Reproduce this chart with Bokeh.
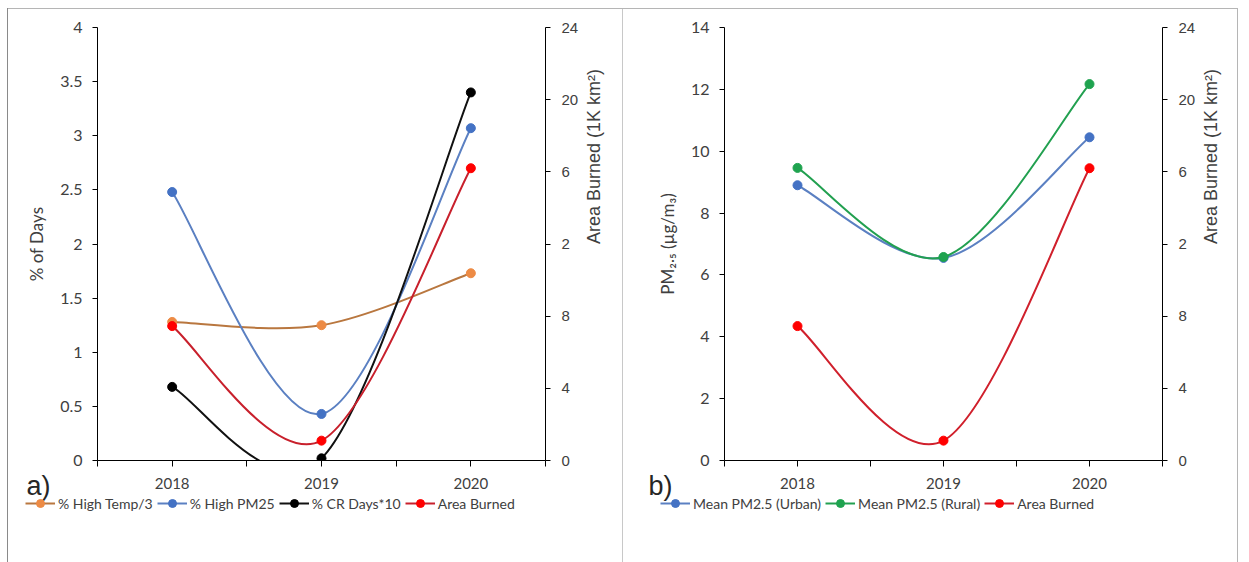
import math
import numpy as np
from bokeh.plotting import figure
from bokeh.models import (Range1d, LinearAxis, FixedTicker, NumeralTickFormatter,
                          Legend, LegendItem, Label, ColumnDataSource)
from bokeh.core.properties import value
from bokeh.layouts import row
from bokeh.embed import file_html
from bokeh.resources import INLINE

# ---------------- data ----------------
years = [2018, 2019, 2020]
year_labels = ["2018", "2019", "2020"]
half_years = [2017.5, 2018.5, 2019.5, 2020.5]

high_temp_div3 = [1.28, 1.25, 1.73]
high_pm25 = [2.48, 0.43, 3.07]
cr_days_x10 = [0.68, 0.02, 3.40]
area_burned = [7.45, 1.10, 16.2]

pm25_urban = [8.90, 6.55, 10.45]
pm25_rural = [9.46, 6.58, 12.17]

days_ticks = [0, 0.5, 1, 1.5, 2, 2.5, 3, 3.5, 4]
pm_ticks = [0, 2, 4, 6, 8, 10, 12, 14]
area_ticks = [0, 4, 8, 12, 16, 20, 24]
area_tick_labels = ["0", "4", "8", "2", "6", "20", "24"]

CAL = "Lato"
ARIAL = "Liberation Sans"
TXT = "#404040"
X0, X1 = 2017.5, 2020.5
MAIN_H, LEG_H = 470, 92


def smooth_source(xs, ys):
    """Bezier control points (Catmull-Rom style, like Excel smoothed lines)."""
    n = len(xs)
    d = dict(x0=[], y0=[], x1=[], y1=[], cx0=[], cy0=[], cx1=[], cy1=[])
    for i in range(n - 1):
        im, ip = max(i - 1, 0), min(i + 2, n - 1)
        d["x0"].append(xs[i]); d["y0"].append(ys[i])
        d["x1"].append(xs[i + 1]); d["y1"].append(ys[i + 1])
        d["cx0"].append(xs[i] + (xs[i + 1] - xs[im]) / 6.0)
        d["cy0"].append(ys[i] + (ys[i + 1] - ys[im]) / 6.0)
        d["cx1"].append(xs[i + 1] - (xs[ip] - xs[i]) / 6.0)
        d["cy1"].append(ys[i + 1] - (ys[ip] - ys[i]) / 6.0)
    return ColumnDataSource(d)


def add_series(p, xs, ys, line_color, marker_color, range_name="default"):
    p.bezier(x0="x0", y0="y0", x1="x1", y1="y1", cx0="cx0", cy0="cy0",
             cx1="cx1", cy1="cy1", source=smooth_source(xs, ys),
             line_color=line_color, line_width=2, y_range_name=range_name)
    p.scatter(xs, ys, size=9, fill_color=marker_color, line_color=marker_color,
              y_range_name=range_name)


def make_fig(width, bl, br, y_end, y_ticks):
    p = figure(width=width, height=MAIN_H, x_range=Range1d(X0, X1),
               y_range=Range1d(0, y_end), output_backend="svg", toolbar_location=None,
               min_border_left=bl, min_border_right=br, min_border_top=27,
               min_border_bottom=MAIN_H - 460, background_fill_color="white",
               border_fill_alpha=0)
    p.outline_line_color = None
    p.xgrid.visible = False
    p.ygrid.visible = False
    p.extra_y_ranges = {"area": Range1d(0, 24)}

    # category axis: tick marks only (year labels are drawn in the strip below)
    xa = p.xaxis[0]
    xa.ticker = FixedTicker(ticks=[], minor_ticks=sorted(years + half_years))
    xa.minor_tick_in = 0
    xa.minor_tick_out = 6
    xa.minor_tick_line_color = "black"
    xa.axis_line_color = "black"

    ya = p.yaxis[0]
    ya.ticker = FixedTicker(ticks=y_ticks, minor_ticks=[])
    ya.formatter = NumeralTickFormatter(format="0.[0]")
    ya.major_tick_in = 0
    ya.major_tick_out = 5
    ya.axis_line_color = "black"
    ya.major_label_text_font = CAL
    ya.major_label_text_font_size = "16px"
    ya.major_label_text_color = TXT
    ya.major_label_standoff = 10
    ya.axis_label_text_font = CAL
    ya.axis_label_text_font_size = "17px"
    ya.axis_label_text_font_style = "normal"
    ya.axis_label_text_color = TXT
    ya.axis_label_standoff = 10

    ra = LinearAxis(y_range_name="area", ticker=FixedTicker(ticks=area_ticks, minor_ticks=[]),
                    major_label_overrides={t: l for t, l in zip(area_ticks, area_tick_labels)})
    ra.major_tick_in = 0
    ra.major_tick_out = 5
    ra.axis_line_color = "black"
    ra.major_label_text_font = ARIAL
    ra.major_label_text_font_size = "15px"
    ra.major_label_text_color = TXT
    ra.major_label_standoff = 11
    ra.axis_label = "Area Burned (1K km\u00b2)"
    ra.axis_label_text_font = ARIAL
    ra.axis_label_text_font_size = "18px"
    ra.axis_label_text_font_style = "normal"
    ra.axis_label_text_color = TXT
    ra.axis_label_standoff = 13
    try:
        ra.axis_label_orientation = math.pi / 2
    except Exception:
        pass
    p.add_layout(ra, "right")
    return p


def make_legend_fig(width, bl, br, tag, tag_x, entries, leg_x):
    """Bottom strip: year labels (same x scale as the plot), panel tag and legend."""
    ppy = (width - bl - br) / (X1 - X0)
    q = figure(width=width, height=LEG_H, output_backend="svg", toolbar_location=None,
               x_range=Range1d(X0 - bl / ppy, X1 + br / ppy), y_range=Range1d(0, LEG_H),
               x_axis_location=None, y_axis_location=None,
               min_border=0, min_border_left=0, min_border_right=0,
               min_border_top=0, min_border_bottom=0,
               background_fill_alpha=0, border_fill_alpha=0)
    q.grid.visible = False
    q.outline_line_color = None
    q.text(x=years, y=[LEG_H - 13] * len(years), text=year_labels,
           text_font=value(CAL), text_font_size="15px", text_color=TXT,
           text_align="center", text_baseline="middle")
    q.add_layout(Label(x=tag_x, y=LEG_H - 15, x_units="screen", y_units="screen", text=tag,
                       text_font=ARIAL, text_font_size="27px", text_color="#262626",
                       text_baseline="middle"))
    items = []
    nan = np.array([np.nan])
    for label, lc, mc in entries:
        l = q.line(x=nan, y=nan, line_color=lc, line_width=2)
        s = q.scatter(x=nan, y=nan, size=8, fill_color=mc, line_color=mc)
        items.append(LegendItem(label=label, renderers=[l, s]))
    leg = Legend(items=items, orientation="horizontal", location=(leg_x, LEG_H - 43))
    leg.label_text_font = CAL
    leg.label_text_font_size = "14px"
    leg.label_text_color = TXT
    leg.glyph_width = 30
    leg.glyph_height = 20
    leg.label_standoff = 3
    leg.spacing = 4
    leg.padding = 0
    leg.margin = 0
    leg.border_line_alpha = 0
    leg.background_fill_alpha = 0
    q.add_layout(leg)
    return q


# ---------------- panel a ----------------
pa = make_fig(623, 97, 78, 4, days_ticks)
pa.yaxis[0].axis_label = "% of Days"
add_series(pa, years, high_temp_div3, "#B9773F", "#ED8B45")
add_series(pa, years, high_pm25, "#5B80C2", "#4472C4")
add_series(pa, years, cr_days_x10, "#111111", "#000000")
add_series(pa, years, area_burned, "#C8202C", "#FF0000", "area")
qa = make_legend_fig(623, 97, 78, "a)", 26,
                     [("% High Temp/3", "#B9773F", "#ED8B45"),
                      ("% High PM25", "#5B80C2", "#4472C4"),
                      ("% CR Days*10", "#111111", "#000000"),
                      ("Area Burned", "#C8202C", "#FF0000")], 25)

# ---------------- panel b ----------------
pb = make_fig(626, 101, 87, 14, pm_ticks)
pb.yaxis[0].axis_label = "PM\u2082.\u2085 (\u00b5g/m\u2083)"
add_series(pb, years, pm25_urban, "#5B80C2", "#4472C4")
add_series(pb, years, pm25_rural, "#22A050", "#1FA34F")
add_series(pb, years, area_burned, "#D0202C", "#FF0000", "area")
qb = make_legend_fig(626, 101, 87, "b)", 25,
                     [("Mean PM2.5 (Urban)", "#5B80C2", "#4472C4"),
                      ("Mean PM2.5 (Rural)", "#22A050", "#1FA34F"),
                      ("Area Burned", "#D0202C", "#FF0000")], 37)

GRAD = "linear-gradient({c},{c})"
top_lines = {
    "background-color": "white",
    "background-image": ", ".join(GRAD.format(c=c) for c in ("#8a8a8a", "#b5b5b5", "#c8c8c8", "#b5b5b5")),
    "background-position": "7px 8px, 7px 8px, 622px 8px, 1237px 8px",
    "background-size": "1px 100%, 1231px 1px, 1px 100%, 1px 100%",
    "background-repeat": "no-repeat",
}
bottom_lines = {
    "background-color": "white",
    "background-image": ", ".join(GRAD.format(c=c) for c in ("#8a8a8a", "#c8c8c8", "#b5b5b5")),
    "background-position": "7px 0px, 622px 0px, 1237px 0px",
    "background-size": "1px 100%, 1px 100%, 1px 100%",
    "background-repeat": "no-repeat",
}
top = row(pa, pb, spacing=0, styles=top_lines)
bottom = row(qa, qb, spacing=0, styles=bottom_lines)
open("out.html", "w").write(file_html([top, bottom], INLINE))
